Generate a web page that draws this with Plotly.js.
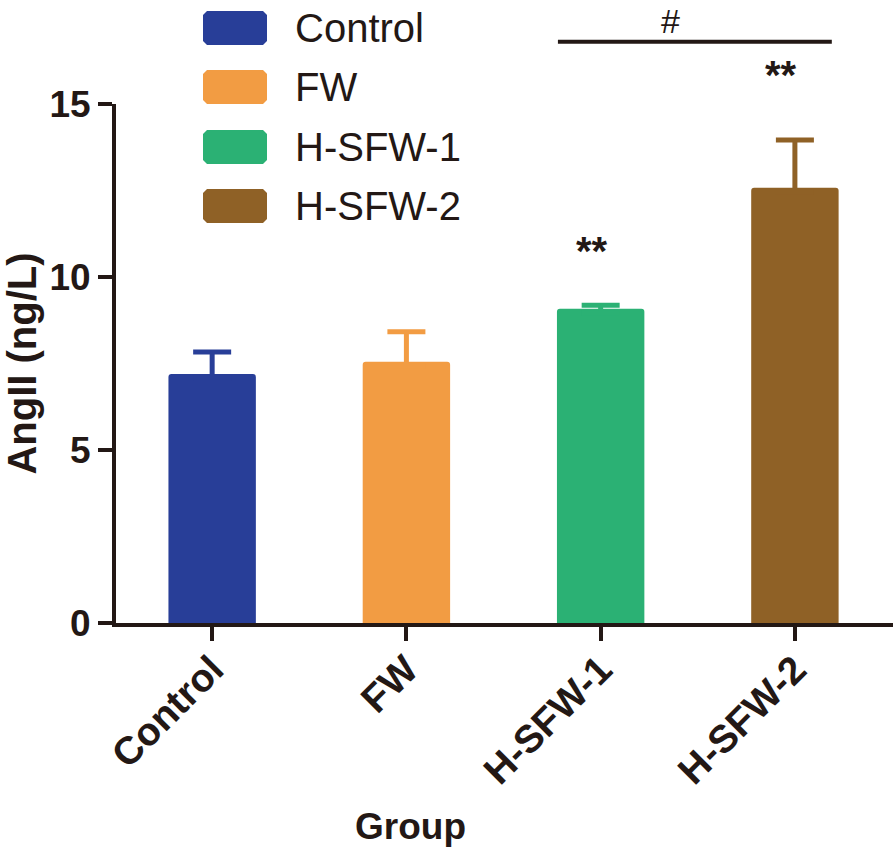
<!DOCTYPE html>
<html>
<head>
<meta charset="utf-8">
<script src="https://cdn.plot.ly/plotly-3.0.1.min.js"></script>
<style>html,body{margin:0;padding:0;background:#fff;}#chart{width:894px;height:847px;}</style>
</head>
<body>
<div id="chart"></div>
<script>
// ---- data ----
const groups = ["Control", "FW", "H-SFW-1", "H-SFW-2"];
const means = [7.2, 7.55, 9.08, 12.58];
const errUp = [0.63, 0.87, 0.1, 1.38];
const colors = ["#283E98", "#F29C43", "#2BB174", "#8F6126"];
const yTicks = [0, 5, 10, 15];
const starLabels = ["", "", "**", "**"];
const starY = [null, null, 10.75, 15.85];
const hashLabel = "#";
const hashSpan = [1.78, 3.19];
const hashLineY = 16.8;
const hashTextX = 2.36;
const xTitle = "Group";
const yTitle = "AngII (ng/L)";

const yMax = 15;
const ink = "#231815";
const FONT = "Liberation Sans, Arial, sans-serif";

const traces = groups.map((g, i) => ({
  type: "bar",
  name: g,
  x: [g],
  y: [means[i]],
  width: 0.45,
  marker: { color: colors[i], cornerradius: 3, line: { width: 0 } },
  error_y: {
    type: "data", symmetric: false, array: [errUp[i]], arrayminus: [0.12],
    color: colors[i], thickness: 5, width: 19
  },
  showlegend: false,
  hoverinfo: "x+y"
}));

const shapes = [];
const annotations = [];

// custom legend (large chamfered swatches)
const legY = [28, 87, 147, 206]; // pixel rows (top of figure = 0)
const plotTop = 104, plotBottom = 623, plotLeft = 116, plotW = 777;
const plotH = plotBottom - plotTop;
const py2paper = p => (plotBottom - p) / plotH;
const px2paper = p => (p - plotLeft) / plotW;
function chamferRect(x0, x1, ytop, ybot, c) {
  const X = v => px2paper(v).toFixed(5), Y = v => py2paper(v).toFixed(5);
  return "M" + X(x0 + c) + "," + Y(ytop) + " L" + X(x1 - c) + "," + Y(ytop) +
    " L" + X(x1) + "," + Y(ytop + c) + " L" + X(x1) + "," + Y(ybot - c) +
    " L" + X(x1 - c) + "," + Y(ybot) + " L" + X(x0 + c) + "," + Y(ybot) +
    " L" + X(x0) + "," + Y(ybot - c) + " L" + X(x0) + "," + Y(ytop + c) + " Z";
}
groups.forEach((g, i) => {
  shapes.push({
    type: "path", xref: "paper", yref: "paper",
    path: chamferRect(203, 267, legY[i] - 17, legY[i] + 17, 4),
    fillcolor: colors[i], line: { width: 0 }, layer: "above"
  });
  annotations.push({
    xref: "paper", yref: "paper", x: px2paper(293), y: py2paper(legY[i]),
    xanchor: "left", yanchor: "middle", showarrow: false,
    text: g, font: { family: FONT, size: 40, color: ink }
  });
});

// significance marks
groups.forEach((g, i) => {
  if (starLabels[i]) {
    annotations.push({
      xref: "x", yref: "paper", x: g, y: starY[i] / yMax, xshift: i === 2 ? -9 : -14,
      showarrow: false, text: starLabels[i], yanchor: "middle",
      font: { family: FONT, size: 40, color: ink, weight: "bold" }
    });
  }
});
shapes.push({
  type: "line", xref: "x", yref: "paper",
  x0: hashSpan[0], x1: hashSpan[1], y0: hashLineY / yMax, y1: hashLineY / yMax,
  line: { color: ink, width: 4 }
});
annotations.push({
  xref: "x", yref: "paper", x: hashTextX, y: py2paper(0.5),
  showarrow: false, text: hashLabel, yanchor: "top", borderpad: 0,
  font: { family: FONT, size: 34, color: ink }
});
// x-axis line stub to the left of y axis
shapes.push({
  type: "line", xref: "paper", yref: "paper",
  x0: px2paper(100), x1: 0, y0: 0, y1: 0,
  line: { color: ink, width: 4 }
});
// x axis title (offset left of plot centre, as in the reference)
annotations.push({
  xref: "paper", yref: "paper", x: px2paper(410), y: py2paper(826),
  xanchor: "center", yanchor: "middle", showarrow: false,
  text: xTitle, font: { family: FONT, size: 37, color: ink, weight: "bold" }
});

const layout = {
  width: 894, height: 847,
  margin: { l: plotLeft, r: 894 - plotLeft - plotW, t: plotTop, b: 847 - plotBottom },
  paper_bgcolor: "#fff", plot_bgcolor: "#fff",
  barmode: "overlay",
  font: { family: FONT, color: ink },
  xaxis: {
    type: "category", categoryorder: "array", categoryarray: groups,
    range: [-0.495, 3.505],
    showline: true, linecolor: ink, linewidth: 4,
    ticks: "outside", ticklen: 14, tickwidth: 4, tickcolor: ink,
    tickangle: -45, ticklabelstandoff: -10,
    tickfont: { family: FONT, size: 39, color: ink, weight: "bold" },
    showgrid: false, zeroline: false, automargin: false
  },
  yaxis: {
    range: [0, yMax], tickvals: yTicks, ticktext: yTicks.map(String),
    showline: true, linecolor: ink, linewidth: 4,
    ticks: "outside", ticklen: 14, tickwidth: 4, tickcolor: ink,
    tickfont: { family: FONT, size: 37, color: ink, weight: "bold" },
    showgrid: false, zeroline: false, automargin: false,
    title: { text: yTitle, font: { family: FONT, size: 40, color: ink, weight: "bold" }, standoff: 3 }
  },
  shapes: shapes,
  annotations: annotations,
  showlegend: false
};

Plotly.newPlot("chart", traces, layout, { displayModeBar: false, staticPlot: true });
</script>
</body>
</html>
